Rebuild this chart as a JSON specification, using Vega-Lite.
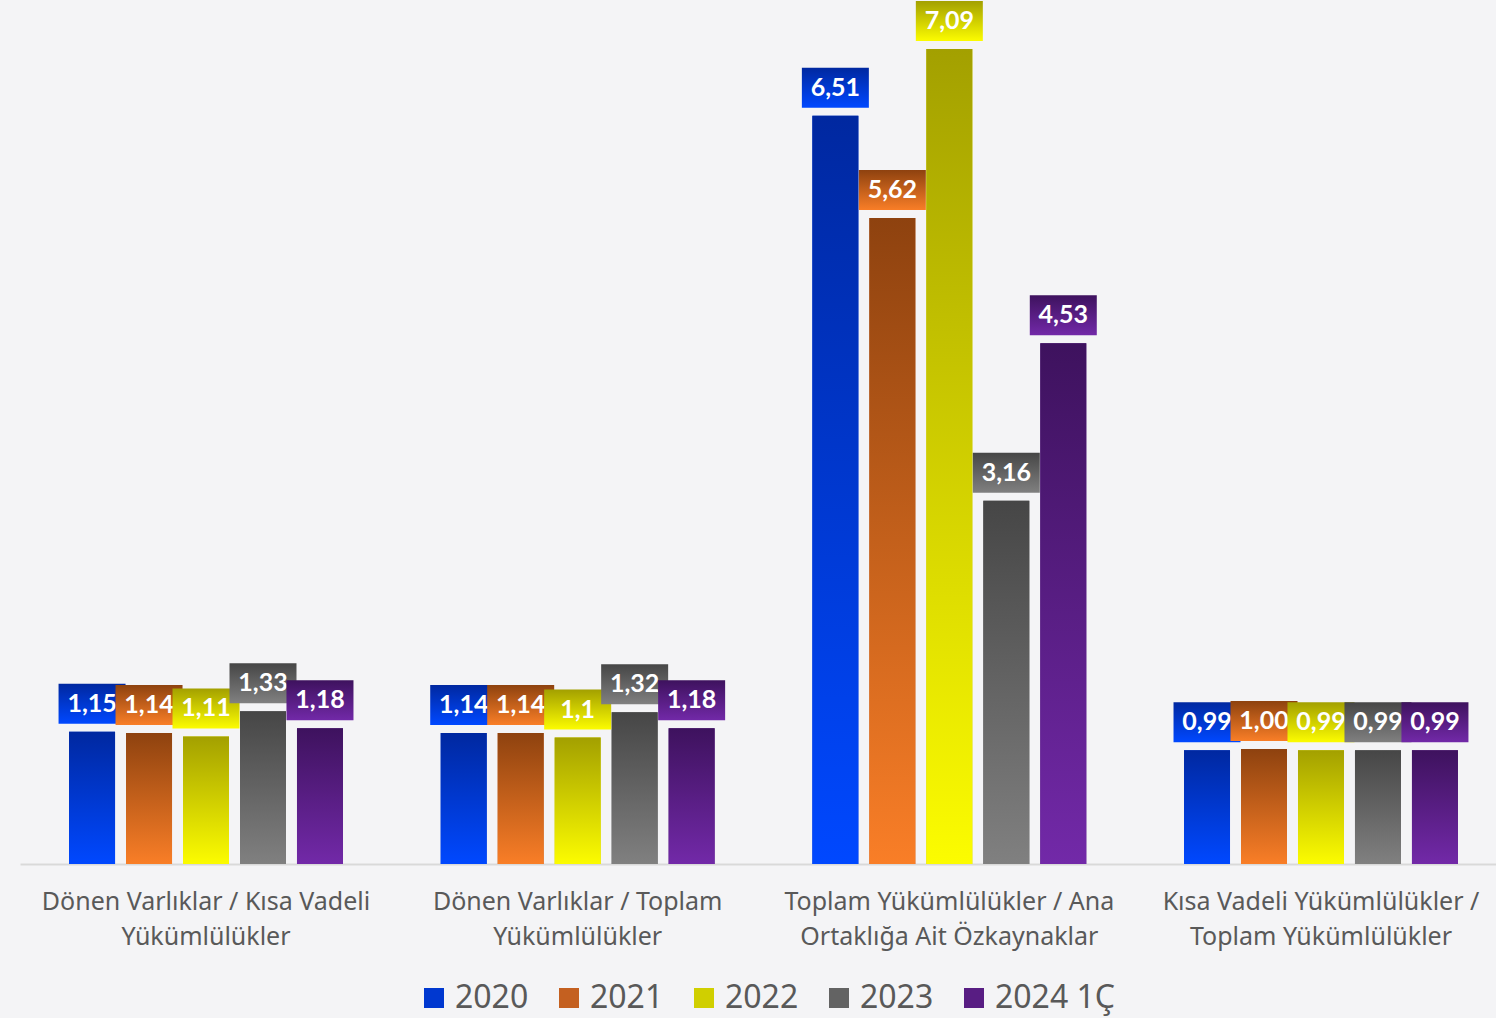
{
  "$schema": "https://vega.github.io/schema/vega-lite/v6.json",
  "width": 1476,
  "height": 864,
  "autosize": {"type": "none"},
  "padding": {"left": 20, "top": 0, "right": 0, "bottom": 154},
  "background": "#F4F4F6",
  "config": {"view": {"stroke": null}},
  "data": {"values": [
    {"cat": "Dönen Varlıklar / Kısa Vadeli Yükümlülükler", "year": "2020", "value": 1.15, "label": "1,15"},
    {"cat": "Dönen Varlıklar / Kısa Vadeli Yükümlülükler", "year": "2021", "value": 1.14, "label": "1,14"},
    {"cat": "Dönen Varlıklar / Kısa Vadeli Yükümlülükler", "year": "2022", "value": 1.11, "label": "1,11"},
    {"cat": "Dönen Varlıklar / Kısa Vadeli Yükümlülükler", "year": "2023", "value": 1.33, "label": "1,33"},
    {"cat": "Dönen Varlıklar / Kısa Vadeli Yükümlülükler", "year": "2024 1Ç", "value": 1.18, "label": "1,18"},
    {"cat": "Dönen Varlıklar / Toplam Yükümlülükler", "year": "2020", "value": 1.14, "label": "1,14"},
    {"cat": "Dönen Varlıklar / Toplam Yükümlülükler", "year": "2021", "value": 1.14, "label": "1,14"},
    {"cat": "Dönen Varlıklar / Toplam Yükümlülükler", "year": "2022", "value": 1.10, "label": "1,1"},
    {"cat": "Dönen Varlıklar / Toplam Yükümlülükler", "year": "2023", "value": 1.32, "label": "1,32"},
    {"cat": "Dönen Varlıklar / Toplam Yükümlülükler", "year": "2024 1Ç", "value": 1.18, "label": "1,18"},
    {"cat": "Toplam Yükümlülükler / Ana Ortaklığa Ait Özkaynaklar", "year": "2020", "value": 6.51, "label": "6,51"},
    {"cat": "Toplam Yükümlülükler / Ana Ortaklığa Ait Özkaynaklar", "year": "2021", "value": 5.62, "label": "5,62"},
    {"cat": "Toplam Yükümlülükler / Ana Ortaklığa Ait Özkaynaklar", "year": "2022", "value": 7.09, "label": "7,09"},
    {"cat": "Toplam Yükümlülükler / Ana Ortaklığa Ait Özkaynaklar", "year": "2023", "value": 3.16, "label": "3,16"},
    {"cat": "Toplam Yükümlülükler / Ana Ortaklığa Ait Özkaynaklar", "year": "2024 1Ç", "value": 4.53, "label": "4,53"},
    {"cat": "Kısa Vadeli Yükümlülükler / Toplam Yükümlülükler", "year": "2020", "value": 0.99, "label": "0,99"},
    {"cat": "Kısa Vadeli Yükümlülükler / Toplam Yükümlülükler", "year": "2021", "value": 1.00, "label": "1,00"},
    {"cat": "Kısa Vadeli Yükümlülükler / Toplam Yükümlülükler", "year": "2022", "value": 0.99, "label": "0,99"},
    {"cat": "Kısa Vadeli Yükümlülükler / Toplam Yükümlülükler", "year": "2023", "value": 0.99, "label": "0,99"},
    {"cat": "Kısa Vadeli Yükümlülükler / Toplam Yükümlülükler", "year": "2024 1Ç", "value": 0.99, "label": "0,99"}
  ]},
  "encoding": {
    "x": {
      "field": "cat", "type": "nominal", "sort": null, "title": null,
      "scale": {"range": [0, 1487], "paddingInner": 0.263, "paddingOuter": 0.132},
      "axis": {
        "domainColor": "#D9D9D9", "domainWidth": 2, "ticks": false, "labelAngle": 0,
        "labelFont": "Noto Sans", "labelFontSize": 25, "labelColor": "#595959",
        "labelPadding": 25, "labelLineHeight": 35, "labelLimit": 420,
        "labelExpr": "datum.value == 'Dönen Varlıklar / Kısa Vadeli Yükümlülükler' ? ['Dönen Varlıklar / Kısa Vadeli', 'Yükümlülükler'] : datum.value == 'Dönen Varlıklar / Toplam Yükümlülükler' ? ['Dönen Varlıklar / Toplam', 'Yükümlülükler'] : datum.value == 'Toplam Yükümlülükler / Ana Ortaklığa Ait Özkaynaklar' ? ['Toplam Yükümlülükler / Ana', 'Ortaklığa Ait Özkaynaklar'] : ['Kısa Vadeli Yükümlülükler /', 'Toplam Yükümlülükler']"
      }
    },
    "xOffset": {
      "field": "year", "type": "nominal", "sort": null,
      "scale": {"domain": ["2020", "2021", "2022", "2023", "2024 1Ç"], "paddingInner": 0.193, "paddingOuter": 0}
    },
    "y": {"field": "value", "type": "quantitative", "scale": {"domain": [0, 7.517]}, "axis": null}
  },
  "layer": [
    {
      "mark": {"type": "bar"},
      "encoding": {
        "color": {
          "field": "year", "type": "nominal", "sort": null,
          "scale": {
            "domain": ["2020", "2021", "2022", "2023", "2024 1Ç"],
            "range": ["#0038D0", "#C46020", "#D0CF00", "#636363", "#581D83"]
          },
          "legend": {
            "title": null, "orient": "none", "legendX": 398, "legendY": 982, "direction": "horizontal",
            "labelFont": "Noto Sans", "labelFontSize": 32, "labelColor": "#595959",
            "symbolType": "square", "symbolSize": 400, "symbolStrokeWidth": 0,
            "labelOffset": 5, "columnPadding": 24,
            "encode": {"symbols": {
              "update": {"fill": [
                {"test": "datum.value == '2020'", "value": {"gradient": "linear", "x1": 0, "y1": 0, "x2": 0, "y2": 1, "stops": [{"offset": 0, "color": "#0028A0"}, {"offset": 1, "color": "#0048FF"}]}},
                {"test": "datum.value == '2021'", "value": {"gradient": "linear", "x1": 0, "y1": 0, "x2": 0, "y2": 1, "stops": [{"offset": 0, "color": "#8E420F"}, {"offset": 1, "color": "#F97E27"}]}},
                {"test": "datum.value == '2022'", "value": {"gradient": "linear", "x1": 0, "y1": 0, "x2": 0, "y2": 1, "stops": [{"offset": 0, "color": "#A3A000"}, {"offset": 1, "color": "#FCFC00"}]}},
                {"test": "datum.value == '2023'", "value": {"gradient": "linear", "x1": 0, "y1": 0, "x2": 0, "y2": 1, "stops": [{"offset": 0, "color": "#464646"}, {"offset": 1, "color": "#808080"}]}},
                {"value": {"gradient": "linear", "x1": 0, "y1": 0, "x2": 0, "y2": 1, "stops": [{"offset": 0, "color": "#3E125E"}, {"offset": 1, "color": "#7229A8"}]}}
              ]}
            }}
          }
        }
      }
    },
    {
      "transform": [{"filter": "datum.year == '2020'"}],
      "mark": {"type": "bar", "color": {"gradient": "linear", "x1": 0, "y1": 0, "x2": 0, "y2": 1, "stops": [{"offset": 0, "color": "#0028A0"}, {"offset": 1, "color": "#0048FF"}]}}
    },
    {
      "transform": [{"filter": "datum.year == '2021'"}],
      "mark": {"type": "bar", "color": {"gradient": "linear", "x1": 0, "y1": 0, "x2": 0, "y2": 1, "stops": [{"offset": 0, "color": "#8E420F"}, {"offset": 1, "color": "#F97E27"}]}}
    },
    {
      "transform": [{"filter": "datum.year == '2022'"}],
      "mark": {"type": "bar", "color": {"gradient": "linear", "x1": 0, "y1": 0, "x2": 0, "y2": 1, "stops": [{"offset": 0, "color": "#A3A000"}, {"offset": 1, "color": "#FCFC00"}]}}
    },
    {
      "transform": [{"filter": "datum.year == '2023'"}],
      "mark": {"type": "bar", "color": {"gradient": "linear", "x1": 0, "y1": 0, "x2": 0, "y2": 1, "stops": [{"offset": 0, "color": "#464646"}, {"offset": 1, "color": "#808080"}]}}
    },
    {
      "transform": [{"filter": "datum.year == '2024 1Ç'"}],
      "mark": {"type": "bar", "color": {"gradient": "linear", "x1": 0, "y1": 0, "x2": 0, "y2": 1, "stops": [{"offset": 0, "color": "#3E125E"}, {"offset": 1, "color": "#7229A8"}]}}
    },
    {
      "transform": [{"filter": "datum.year == '2020'"}],
      "mark": {"type": "tick", "size": 67, "thickness": 40, "yOffset": -28, "opacity": 1,
        "color": {"gradient": "linear", "x1": 0, "y1": 0, "x2": 0, "y2": 1, "stops": [{"offset": 0, "color": "#0028A0"}, {"offset": 1, "color": "#0048FF"}]}}
    },
    {
      "transform": [{"filter": "datum.year == '2020'"}],
      "mark": {"type": "text", "yOffset": -28, "baseline": "middle", "align": "center", "font": "Lato", "fontWeight": "bold", "fontSize": 25, "color": "white"},
      "encoding": {"text": {"field": "label"}}
    },
    {
      "transform": [{"filter": "datum.year == '2021'"}],
      "mark": {"type": "tick", "size": 67, "thickness": 40, "yOffset": -28, "opacity": 1,
        "color": {"gradient": "linear", "x1": 0, "y1": 0, "x2": 0, "y2": 1, "stops": [{"offset": 0, "color": "#8E420F"}, {"offset": 1, "color": "#F97E27"}]}}
    },
    {
      "transform": [{"filter": "datum.year == '2021'"}],
      "mark": {"type": "text", "yOffset": -28, "baseline": "middle", "align": "center", "font": "Lato", "fontWeight": "bold", "fontSize": 25, "color": "white"},
      "encoding": {"text": {"field": "label"}}
    },
    {
      "transform": [{"filter": "datum.year == '2022'"}],
      "mark": {"type": "tick", "size": 67, "thickness": 40, "yOffset": -28, "opacity": 1,
        "color": {"gradient": "linear", "x1": 0, "y1": 0, "x2": 0, "y2": 1, "stops": [{"offset": 0, "color": "#A3A000"}, {"offset": 1, "color": "#FCFC00"}]}}
    },
    {
      "transform": [{"filter": "datum.year == '2022'"}],
      "mark": {"type": "text", "yOffset": -28, "baseline": "middle", "align": "center", "font": "Lato", "fontWeight": "bold", "fontSize": 25, "color": "white"},
      "encoding": {"text": {"field": "label"}}
    },
    {
      "transform": [{"filter": "datum.year == '2023'"}],
      "mark": {"type": "tick", "size": 67, "thickness": 40, "yOffset": -28, "opacity": 1,
        "color": {"gradient": "linear", "x1": 0, "y1": 0, "x2": 0, "y2": 1, "stops": [{"offset": 0, "color": "#464646"}, {"offset": 1, "color": "#808080"}]}}
    },
    {
      "transform": [{"filter": "datum.year == '2023'"}],
      "mark": {"type": "text", "yOffset": -28, "baseline": "middle", "align": "center", "font": "Lato", "fontWeight": "bold", "fontSize": 25, "color": "white"},
      "encoding": {"text": {"field": "label"}}
    },
    {
      "transform": [{"filter": "datum.year == '2024 1Ç'"}],
      "mark": {"type": "tick", "size": 67, "thickness": 40, "yOffset": -28, "opacity": 1,
        "color": {"gradient": "linear", "x1": 0, "y1": 0, "x2": 0, "y2": 1, "stops": [{"offset": 0, "color": "#3E125E"}, {"offset": 1, "color": "#7229A8"}]}}
    },
    {
      "transform": [{"filter": "datum.year == '2024 1Ç'"}],
      "mark": {"type": "text", "yOffset": -28, "baseline": "middle", "align": "center", "font": "Lato", "fontWeight": "bold", "fontSize": 25, "color": "white"},
      "encoding": {"text": {"field": "label"}}
    }
  ]
}
